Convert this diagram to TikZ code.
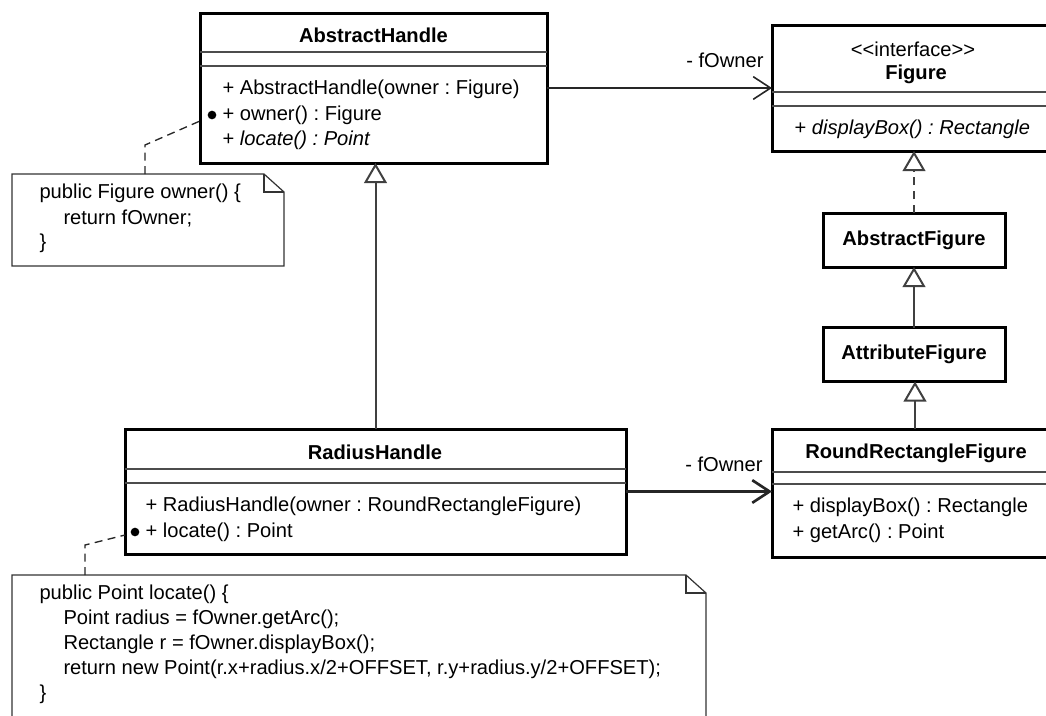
\documentclass[tikz,border=0pt]{standalone}
\usepackage{fontspec}
\setmainfont{Liberation Sans}
\usetikzlibrary{arrows.meta}
\frenchspacing
\newcommand{\umlfont}{\fontsize{15.1}{18}\selectfont}

\tikzset{every picture/.style={line width=0.75pt}}
\tikzset{
  classbox/.style={draw, line width=2.25pt, inner sep=0pt, outer sep=0pt},
  sepline/.style={draw=black!70, line width=1pt},
  cname/.style={inner sep=0.75pt, font=\umlfont\bfseries},
  member/.style={anchor=west, inner sep=0.75pt},
  notearea/.style={inner sep=0pt, outer sep=0pt},
  notebox/.style={draw=black!80, line width=0.9pt},
  notelink/.style={draw=black!85, line width=1pt, dash pattern=on 6pt off 4pt},
  dotmark/.style={circle, fill=black, inner sep=0pt, minimum size=6.5pt},
  assoc/.style={draw=black!85, line width=1.2pt, -{Straight Barb[length=13pt,width=17pt]}},
  genline/.style={draw=black!75, line width=1.5pt, -{Triangle[open,length=15pt,width=17pt,fill=white]}},
}

\begin{document}
\begin{tikzpicture}[x=0.75pt,y=0.75pt,yscale=-1,xscale=1,font=\umlfont]
\path[use as bounding box] (0,0) rectangle (1046,715);
\clip (0,0) rectangle (1046,715);

%Shape: Class AbstractHandle
\node[classbox, minimum width=260.25pt, minimum height=112.5pt] (abshandle) at (373.5,88) {};
\draw[sepline] (abshandle.west |- 0,52) -- (abshandle.east |- 0,52);
\draw[sepline] (abshandle.west |- 0,66) -- (abshandle.east |- 0,66);
% Text Node
\node[cname] (ahname) at (373.5,35) {AbstractHandle};
\node[member] (ahop1) at (221,89) {+ AbstractHandle(owner : Figure)};
\node[member] (ahop2) at (221,115) {+ owner() : Figure};
\node[member] (ahop3) at (221,140) {+ \textit{locate() : Point}};
\node[dotmark] (ahdot) at (212,115) {};

%Shape: Class Figure
\node[classbox, minimum width=214.5pt, minimum height=94.5pt] (figure) at (915,88) {};
\draw[sepline] (figure.west |- 0,92) -- (figure.east |- 0,92);
\draw[sepline] (figure.west |- 0,106) -- (figure.east |- 0,106);
% Text Node
\node[inner sep=0.75pt] (figstereo) at (913,49) {<{}<interface>{}>};
\node[cname] (figname) at (916,74) {Figure};
\node[member] (figop1) at (793,129) {+ \textit{displayBox() : Rectangle}};

%Shape: Class AbstractFigure
\node[classbox, font=\umlfont\bfseries, minimum width=136.5pt, minimum height=40.5pt] (absfig) at (914,240) {AbstractFigure};

%Shape: Class AttributeFigure
\node[classbox, font=\umlfont\bfseries, minimum width=136.5pt, minimum height=40.5pt] (attrfig) at (914,354.5) {AttributeFigure};

%Shape: Class RoundRectangleFigure
\node[classbox, minimum width=214.5pt, minimum height=96pt] (rrfig) at (915,493) {};
\draw[sepline] (rrfig.west |- 0,472) -- (rrfig.east |- 0,472);
\draw[sepline] (rrfig.west |- 0,484) -- (rrfig.east |- 0,484);
% Text Node
\node[cname] (rrname) at (916,453) {RoundRectangleFigure};
\node[member] (rrop1) at (791,507) {+ displayBox() : Rectangle};
\node[member] (rrop2) at (791,533) {+ getArc() : Point};

%Shape: Class RadiusHandle
\node[classbox, minimum width=375.75pt, minimum height=93.75pt] (rhandle) at (375.5,491.5) {};
\draw[sepline] (rhandle.west |- 0,469) -- (rhandle.east |- 0,469);
\draw[sepline] (rhandle.west |- 0,483) -- (rhandle.east |- 0,483);
% Text Node
\node[cname] (rhname) at (375,452) {RadiusHandle};
\node[member] (rhop1) at (144,506) {+ RadiusHandle(owner : RoundRectangleFigure)};
\node[member] (rhop2) at (144,532) {+ locate() : Point};
\node[dotmark] (rhdot) at (135,532) {};

%Shape: Note owner()
\node[notearea, minimum width=204pt, minimum height=69pt] (note1) at (148,220) {};
\draw[notebox] (note1.south west) -- (note1.north west) -- ([xshift=-15pt]note1.north east) -- ([yshift=13.5pt]note1.north east) -- (note1.south east) -- cycle;
\draw[notebox] ([xshift=-15pt]note1.north east) -- ([xshift=-15pt,yshift=13.5pt]note1.north east) -- ([yshift=13.5pt]note1.north east);
% Text Node
\node[member] (n1line1) at (38,193) {public Figure owner() \{};
\node[member] (n1line2) at (62,218) {return fOwner;};
\node[member] (n1line3) at (38,243) {\}};

%Shape: Note locate()
\node[notearea, minimum width=520.5pt, minimum height=112.5pt] (note2) at (359,650) {};
\draw[notebox] (note2.south west) -- (note2.north west) -- ([xshift=-15pt]note2.north east) -- ([yshift=13.5pt]note2.north east) -- (note2.south east) -- cycle;
\draw[notebox] ([xshift=-15pt]note2.north east) -- ([xshift=-15pt,yshift=13.5pt]note2.north east) -- ([yshift=13.5pt]note2.north east);
% Text Node
\node[member] (n2line1) at (38,594) {public Point locate() \{};
\node[member] (n2line2) at (62,619) {Point radius = fOwner.getArc();};
\node[member] (n2line3) at (62,644) {Rectangle r = fOwner.displayBox();};
\node[member] (n2line4) at (62,669) {return new Point(r.x+radius.x/2+OFFSET, r.y+radius.y/2+OFFSET);};
\node[member] (n2line5) at (38,694) {\}};

%Straight Lines: note links
\coordinate (bend1) at (145,145);
\coordinate (link1) at (200,121);
\draw[notelink] (note1.north -| bend1) -- (bend1) -- (link1);
\coordinate (bend2) at (85,545);
\coordinate (link2) at (125,535);
\draw[notelink] (note2.north -| bend2) -- (bend2) -- (link2);

%Straight Lines: associations
\draw[assoc] (abshandle.east) -- (abshandle.east -| figure.west);
\node[anchor=east, inner sep=0.75pt] (fowner1) at (765,60) {- fOwner};
\draw[assoc, line width=2pt] (rhandle.east) -- (rhandle.east -| rrfig.west);
\node[anchor=east, inner sep=0.75pt] (fowner2) at (764,464) {- fOwner};

%Straight Lines: generalizations
\draw[genline] (rhandle.north) -- (rhandle.north |- abshandle.south);
\draw[genline, dash pattern=on 6pt off 4.5pt] (absfig.north) -- (absfig.north |- figure.south);
\draw[genline] (attrfig.north) -- (absfig.south);
\draw[genline] (rrfig.north) -- (rrfig.north |- attrfig.south);
\end{tikzpicture}
\end{document}
